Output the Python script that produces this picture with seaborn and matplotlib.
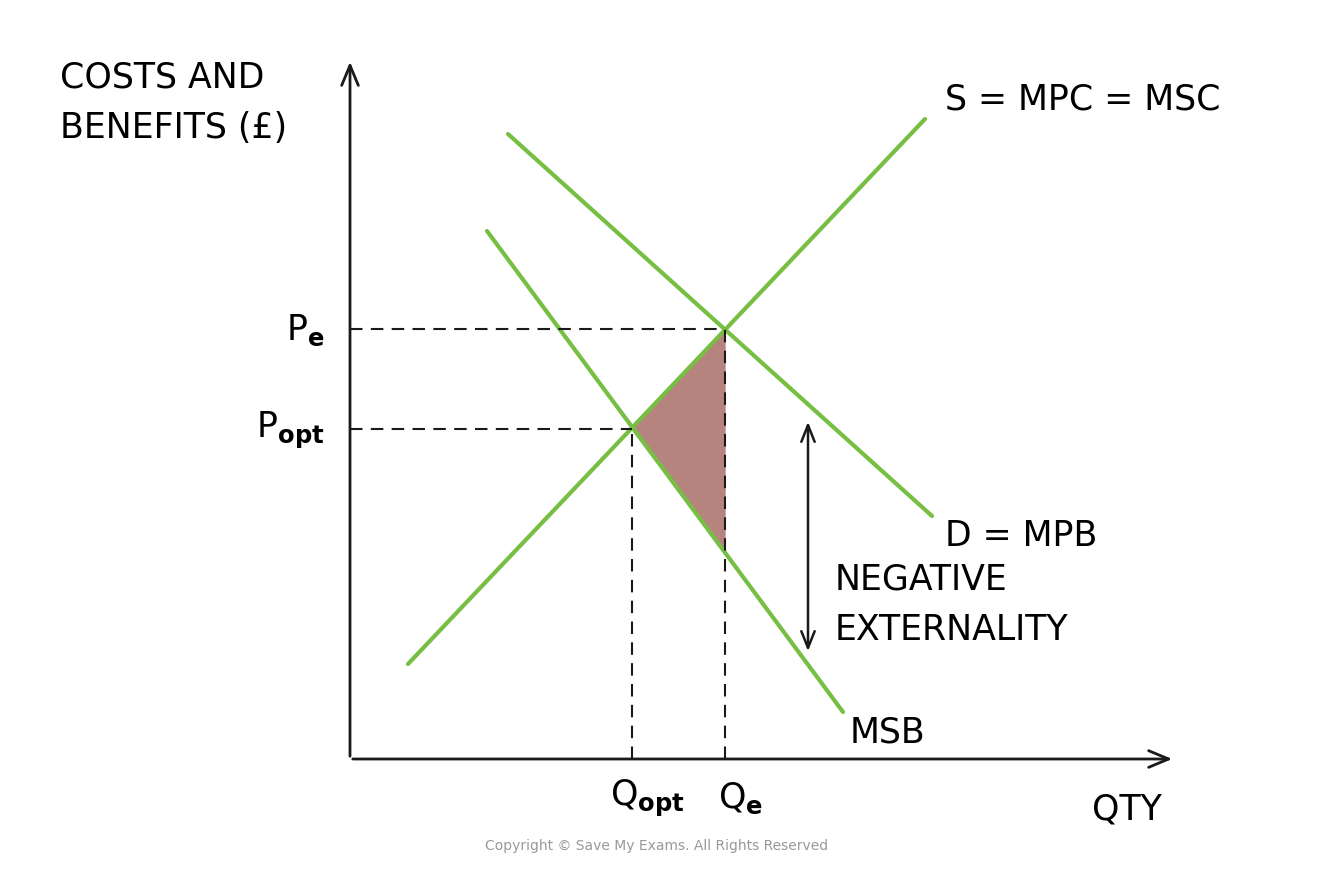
import matplotlib
matplotlib.use("Agg")
import matplotlib.pyplot as plt
import seaborn as sns
import pandas as pd

sns.set_theme(style="white")
plt.rcParams['font.family'] = ['DejaVu Sans']
plt.rcParams['text.color'] = 'black'

# curves (data units: quantity, price)
s_x = [0.58, 5.75]; s_y = [0.95, 6.40]
d_x = [1.58, 5.82]; d_y = [6.25, 2.43]
msb_x = [1.37, 4.93]; msb_y = [5.28, 0.47]
q_e, p_e = 3.75, 4.30
q_opt, p_opt = 2.82, 3.30
tri_x = [2.82, 3.75, 3.75]; tri_y = [3.30, 4.28, 2.07]
ext_x, ext_top, ext_bot = 4.58, 3.40, 1.05

green = "#76bf43"
fig = plt.figure(figsize=(13.22, 8.78), dpi=100)
ax = fig.add_axes([0, 0, 1, 1])
ax.set_xlim(-3.5, 9.72); ax.set_ylim(-1.18, 7.60)
ax.axis("off")

for xs, ys in [(s_x, s_y), (d_x, d_y), (msb_x, msb_y)]:
    sns.lineplot(data=pd.DataFrame({"x": xs, "y": ys}), x="x", y="y", ax=ax,
                 color=green, lw=3, sort=False)

ax.fill(tri_x, tri_y, color="#b5847e", zorder=1)

# dashed guides
for seg in [([0, q_e], [p_e, p_e]), ([q_e, q_e], [0, p_e]),
            ([0, q_opt], [p_opt, p_opt]), ([q_opt, q_opt], [0, p_opt])]:
    ax.plot(*seg, color="k", ls="--", lw=1.5, dashes=(6, 4))

# axes with arrows
ax.annotate("", xy=(0, 7.0), xytext=(0, 0),
            arrowprops=dict(arrowstyle="->,head_length=1.2,head_width=0.5", lw=2, color="k"))
ax.annotate("", xy=(8.25, 0), xytext=(0, 0),
            arrowprops=dict(arrowstyle="->,head_length=1.2,head_width=0.5", lw=2, color="k"))
ax.annotate("", xy=(ext_x, ext_top), xytext=(ext_x, ext_bot),
            arrowprops=dict(arrowstyle="<->,head_length=1.0,head_width=0.4", lw=1.8, color="k"))

fs = 25
ax.text(-2.9, 6.57, "COSTS AND\nBENEFITS (£)", fontsize=fs, va="center", linespacing=1.6)
ax.text(5.95, 6.6, "S = MPC = MSC", fontsize=fs, va="center")
ax.text(5.95, 2.24, "D = MPB", fontsize=fs, va="center")
ax.text(5.0, 0.27, "MSB", fontsize=fs, va="center")
ax.text(4.85, 1.55, "NEGATIVE\nEXTERNALITY", fontsize=fs, va="center", linespacing=1.6)
ax.text(-0.25, p_e, r"P$_\mathbf{e}$", fontsize=fs, va="center", ha="right")
ax.text(-0.25, p_opt, r"P$_\mathbf{opt}$", fontsize=fs, va="center", ha="right")
ax.text(q_opt + 0.15, -0.38, r"Q$_\mathbf{opt}$", fontsize=fs, va="center", ha="center")
ax.text(q_e + 0.15, -0.38, r"Q$_\mathbf{e}$", fontsize=fs, va="center", ha="center")
ax.text(7.77, -0.5, "QTY", fontsize=fs, va="center", ha="center")
ax.text(3.07, -0.86, "Copyright © Save My Exams. All Rights Reserved", fontsize=10,
        color="#999999", ha="center", va="center")

fig.savefig("out.png", dpi=100)
